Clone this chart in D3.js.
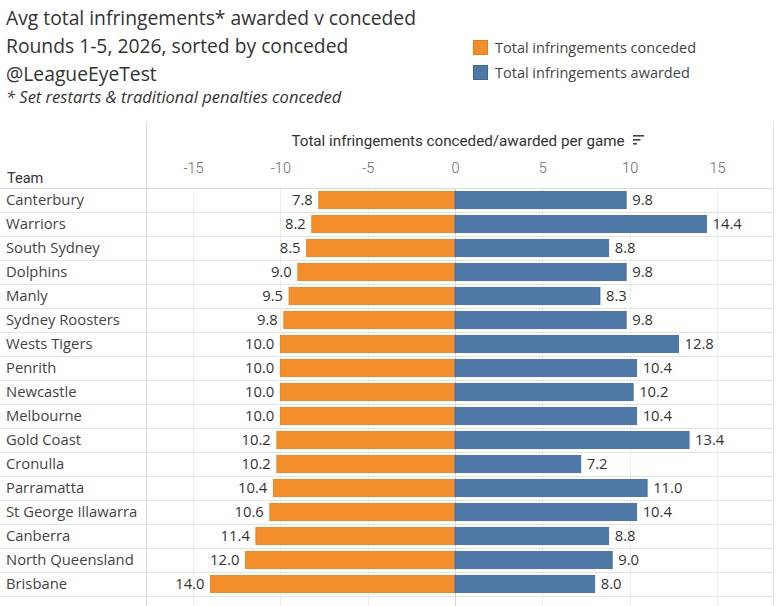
<!DOCTYPE html>
<html><head><meta charset="utf-8">
<script src="https://cdn.jsdelivr.net/npm/d3@7"></script>
<style>
html,body{margin:0;padding:0;background:#fff;}
svg{display:block;font-family:"Open Sans",Lato,sans-serif;}
</style></head>
<body><svg id="c" width="778" height="606"></svg>
<script>
const teams = ["Canterbury","Warriors","South Sydney","Dolphins","Manly","Sydney Roosters","Wests Tigers","Penrith","Newcastle","Melbourne","Gold Coast","Cronulla","Parramatta","St George Illawarra","Canberra","North Queensland","Brisbane"];
const conceded = [7.8,8.2,8.5,9.0,9.5,9.8,10.0,10.0,10.0,10.0,10.2,10.2,10.4,10.6,11.4,12.0,14.0];
const awarded = [9.8,14.4,8.8,9.8,8.3,9.8,12.8,10.4,10.2,10.4,13.4,7.2,11.0,10.4,8.8,9.0,8.0];
const ticks = [-15,-10,-5,0,5,10,15];
const titleLines = ["Avg total infringements* awarded v conceded","Rounds 1-5, 2026, sorted by conceded","@LeagueEyeTest"];
const subtitle = "* Set restarts & traditional penalties conceded";
const legendItems = ["Total infringements conceded","Total infringements awarded"];
const axisTitle = "Total infringements conceded/awarded per game";

(function(){
const colors = ["#F28E2B","#4E79A7"];
const strokes = ["#E5801E","#3F6A98"];
const svg = d3.select("#c");
const plotL = 146, plotR = 773, topY = 188, rowH = 24;
const narrow = "Roboto,'Open Sans',sans-serif";

const x = d3.scaleLinear().domain([-15,15]).range([193,717]);
const y = d3.scaleBand().domain(teams).range([topY, topY + rowH*teams.length]).paddingInner(0.28).paddingOuter(0.14);
const band = d3.scaleBand().domain(teams).range([topY, topY + rowH*teams.length]);

svg.selectAll("text.title").data(titleLines).join("text").attr("class","title")
  .attr("x",6).attr("y",(d,i)=>25+i*28).attr("font-size",19.3).attr("fill","#333").text(d=>d);
svg.append("text").attr("x",6).attr("y",103).attr("font-size",16.5).attr("font-style","italic").attr("fill","#333").text(subtitle);

legendItems.forEach((t,i)=>{
  svg.append("rect").attr("x",473.5).attr("y",40.5+i*25).attr("width",14).attr("height",14).attr("fill",colors[i]).attr("stroke",strokes[i]);
  svg.append("text").attr("x",495).attr("y",53+i*25).attr("font-size",14.5).attr("fill","#444").text(t);
});

svg.append("g").selectAll("line").data(ticks).join("line")
  .attr("x1",d=>Math.round(x(d))+0.5).attr("x2",d=>Math.round(x(d))+0.5).attr("y1",topY).attr("y2",606)
  .attr("stroke",d=>d===0?"#d4d4d4":"#ededed").attr("stroke-width",1);

svg.append("g").selectAll("line").data(teams).join("line")
  .attr("x1",0).attr("x2",plotR).attr("y1",d=>band(d)+rowH+0.5).attr("y2",d=>band(d)+rowH+0.5)
  .attr("stroke","#e3e3e3");
svg.append("line").attr("x1",0).attr("x2",plotR).attr("y1",topY+0.5).attr("y2",topY+0.5).attr("stroke","#d9d9d9");
svg.append("line").attr("x1",plotL+0.5).attr("x2",plotL+0.5).attr("y1",122).attr("y2",606).attr("stroke","#d9d9d9");
svg.append("line").attr("x1",plotR+0.5).attr("x2",plotR+0.5).attr("y1",122).attr("y2",606).attr("stroke","#e3e3e3");

const axis = d3.axisTop(x).tickValues(ticks).tickSize(0).tickFormat(d=>String(d));
const ag = svg.append("g").attr("transform","translate(0,176)").call(axis);
ag.select(".domain").remove();
ag.selectAll("text").attr("font-size",14.5).attr("fill","#666").attr("font-family",narrow).attr("font-weight",300).attr("dy",0);
svg.append("text").attr("x",458).attr("y",146).attr("text-anchor","middle").attr("font-size",15.2).attr("fill","#333")
  .attr("font-family",narrow).text(axisTitle);
[0,1,2].forEach(i=>{
  svg.append("rect").attr("x",633).attr("y",135+i*4).attr("width",11-i*3.5).attr("height",1.6).attr("fill","#444");
});
svg.append("text").attr("x",7).attr("y",183).attr("font-size",14.5).attr("fill","#333").attr("font-family",narrow).text("Team");

svg.append("g").selectAll("text").data(teams).join("text")
  .attr("x",6).attr("y",d=>band(d)+rowH/2+5).attr("font-size",14.8).attr("fill","#444").text(d=>d);

const rows = teams.map((t,i)=>({t,c:conceded[i],a:awarded[i]}));
svg.append("g").selectAll("rect").data(rows).join("rect")
  .attr("x",d=>x(-d.c)).attr("width",d=>x(0)-x(-d.c)).attr("y",d=>y(d.t)).attr("height",y.bandwidth())
  .attr("fill",colors[0]).attr("stroke",strokes[0]).attr("stroke-width",0.8);
svg.append("g").selectAll("rect").data(rows).join("rect")
  .attr("x",x(0)).attr("width",d=>x(d.a)-x(0)).attr("y",d=>y(d.t)).attr("height",y.bandwidth())
  .attr("fill",colors[1]).attr("stroke",strokes[1]).attr("stroke-width",0.8);

svg.append("g").selectAll("text").data(rows).join("text")
  .attr("x",d=>x(-d.c)-6).attr("y",d=>band(d.t)+rowH/2+5).attr("text-anchor","end")
  .attr("font-size",14.8).attr("fill","#333").text(d=>d.c.toFixed(1));
svg.append("g").selectAll("text").data(rows).join("text")
  .attr("x",d=>x(d.a)+6).attr("y",d=>band(d.t)+rowH/2+5)
  .attr("font-size",14.8).attr("fill","#333").text(d=>d.a.toFixed(1));
})();
</script></body></html>
